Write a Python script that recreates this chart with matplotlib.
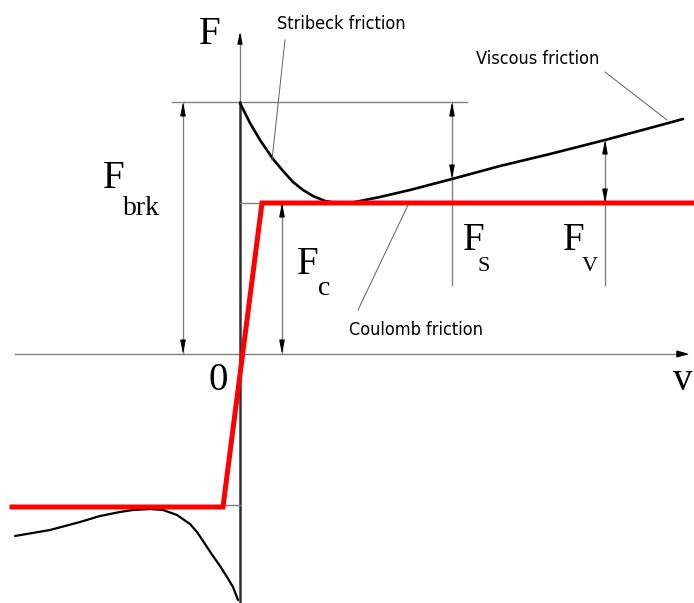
from matplotlib import pyplot as plt
from matplotlib import rcParams
import numpy as np

rcParams["font.family"] = ["Liberation Serif", "DejaVu Serif"]

# friction curve (v to the right, F up, origin at axis cross)
v_pos = [0, 10, 20, 33, 43, 53, 63, 73, 85, 97, 110, 140, 170, 212, 260, 310, 365, 410, 443]
F_pos = [251, 231, 214, 195, 183, 172, 164, 158, 153, 151, 151, 157, 164, 175, 188, 200, 214, 226, 235]
v_neg = [-225, -190, -160, -140, -120, -107, -90, -77, -63, -50, -43, -35, -27, -20, -13, -7, -2]
F_neg = [-182, -176, -168, -162, -158, -156, -155, -156, -161, -170, -178, -190, -202, -212, -223, -233, -246]

# simplified (red) model
v_red = [-228, -17, 22, 454]
F_red = [-153, -153, 151, 151]

F_brk = 252
F_c = 151
F_s_at = 175   # friction at the Fs marker
F_v_at = 214   # friction at the Fv marker
F_low = 69     # bottom of the Fs / Fv guide lines

# where the dimension arrows sit along v
v_brk = -57
v_c = 42
v_s = 212
v_v = 365

fig = plt.figure(figsize=(6.94, 6.03), dpi=100)
ax = fig.add_axes([0, 0, 1, 1])
ax.set_xlim(-240, 454)
ax.set_ylim(-249, 354)
ax.axis('off')

grey = '#808080'

# axes
ax.plot([-225, 447], [0, 0], color=grey, lw=1.0)
ax.annotate('', xy=(452, 0), xytext=(440, 0),
            arrowprops=dict(arrowstyle='-|>,head_length=0.7,head_width=0.2', color='k', lw=1))
ax.plot([0, 0], [F_brk, 320], color=grey, lw=1.0)
ax.annotate('', xy=(0, 325), xytext=(0, 310),
            arrowprops=dict(arrowstyle='-|>,head_length=0.7,head_width=0.15', color='k', lw=0.8))
ax.plot([0, 0], [-249, F_brk], color='#303030', lw=1.8)

# guide lines
ax.plot([-68, 227], [F_brk, F_brk], color=grey, lw=1.0)
ax.plot([0, 22], [F_c, F_c], color=grey, lw=1.0)
ax.plot([-17, 0], [-F_c, -F_c], color=grey, lw=1.0)


def dim_arrow(v, lo, hi, extend_to=None):
    bottom = lo if extend_to is None else extend_to
    ax.plot([v, v], [bottom, hi], color=grey, lw=1.0)
    st = '-|>,head_length=0.8,head_width=0.16'
    ax.annotate('', xy=(v, hi), xytext=(v, hi - 14),
                arrowprops=dict(arrowstyle=st, color='k', lw=0.8, shrinkA=0, shrinkB=0))
    ax.annotate('', xy=(v, lo), xytext=(v, lo + 14),
                arrowprops=dict(arrowstyle=st, color='k', lw=0.8, shrinkA=0, shrinkB=0))


dim_arrow(v_brk, 0, F_brk)
dim_arrow(v_c, 0, F_c)
dim_arrow(v_s, F_s_at, F_brk, extend_to=F_low)
dim_arrow(v_v, F_c, F_v_at, extend_to=F_low)

# curves
ax.plot(v_pos, F_pos, color='k', lw=1.9, solid_capstyle='round', solid_joinstyle='round')
ax.plot(v_neg, F_neg, color='k', lw=1.6, solid_capstyle='round', solid_joinstyle='round')
ax.plot(v_red, F_red, color='#ff0000', lw=3.6, solid_joinstyle='miter')

# leader lines
ax.plot([45, 32], [314, 194], color='#606060', lw=0.7)
ax.plot([365, 427], [282, 234], color='#606060', lw=0.7)
ax.plot([118, 168], [44, 149], color='#606060', lw=0.7)

# symbols
big = 28
ax.text(-30, 319, 'F', fontsize=big, ha='center', va='center')
ax.text(-22, -27, '0', fontsize=big, ha='center', va='center')
ax.text(443, -26, 'v', fontsize=big, ha='center', va='center')


def sym(v, F, sub, size, dx, dy):
    ax.text(v, F, 'F', fontsize=big, ha='center', va='center')
    ax.text(v + dx, F - dy, sub, fontsize=size, ha='left', va='baseline')


sym(-126, 176, 'brk', 20, 9, 37)
sym(68, 90, 'c', 20, 10, 31)
sym(234, 113, 'S', 16, 4, 30)
sym(334, 113, 'V', 16, 8, 30)

# labels
lab = dict(family=['Liberation Sans Narrow', 'DejaVu Sans'], fontstretch='condensed',
           fontsize=13, ha='center', va='center')
ax.text(101, 330, 'Stribeck friction', **lab)
ax.text(298, 295, 'Viscous friction', **lab)
ax.text(176, 24, 'Coulomb friction', **lab)

plt.savefig('out.png', dpi=100)
